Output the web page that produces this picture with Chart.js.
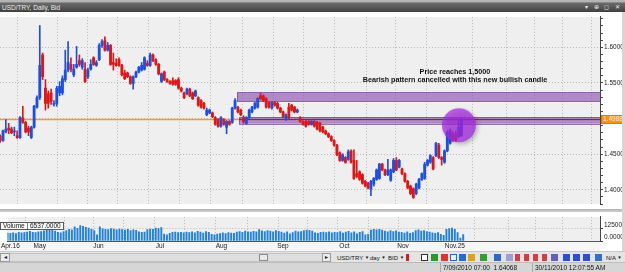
<!DOCTYPE html>
<html><head><meta charset="utf-8">
<script src="https://cdn.jsdelivr.net/npm/chart.js@4.4.0/dist/chart.umd.min.js"></script>
<style>
html,body{margin:0;padding:0;width:625px;height:272px;overflow:hidden;background:#e6e6e6;font-family:"Liberation Sans",Arial,sans-serif;}
div,span{box-sizing:border-box;}
#tabs{position:absolute;left:0;top:0;width:625px;height:3px;background:#b4b4b4;border-bottom:1px solid #8a8a8a;}
#hdr{position:absolute;left:0;top:3px;width:625px;height:9px;background:linear-gradient(#6b6b6b,#404040);color:#ececec;font-size:6.5px;line-height:9px;}
#hdr .t{position:absolute;left:2px;top:0;}
#hdr .b{position:absolute;right:3px;top:0;letter-spacing:2px;font-size:6px;}
#pc{position:absolute;left:0;top:12px;}
#sep{position:absolute;left:0;top:209px;width:625px;height:3px;background:#c6c6c6;border-top:1px solid #b0b0b0;}
#vc{position:absolute;left:0;top:212px;}
#rs{position:absolute;left:622px;top:12px;width:3px;height:240px;background:#d6d6d6;}
#vlab{position:absolute;left:0;top:222px;height:8px;padding:0 2px;border:1px solid #5a5a5a;background:rgba(250,250,250,0.9);font-size:6.5px;line-height:6px;color:#111;white-space:nowrap;}
#bar{position:absolute;left:0;top:251px;width:625px;height:11px;background:#e4e4e4;border-top:1px solid #c8c8c8;}
.btn{position:absolute;top:1px;height:9px;background:#ececec;border:1px solid #9a9a9a;font-size:6px;line-height:7px;text-align:center;color:#111;}
#track{position:absolute;left:10px;top:1px;width:312px;height:9px;background:#dedede;border-top:1px solid #c4c4c4;border-bottom:1px solid #c4c4c4;}
#thumb{position:absolute;top:0;width:9px;height:7px;background:#e9e9e9;border:1px solid #8c8c8c;}
.tb{position:absolute;top:1px;font-size:6px;line-height:9px;color:#111;white-space:nowrap;}
.tb i{font-style:normal;font-size:4.5px;vertical-align:1px;}
.ic{position:absolute;top:2px;width:7px;height:7px;}
#status{position:absolute;left:0;top:262px;width:625px;height:10px;background:#d6d6d6;border-top:1px solid #bdbdbd;}
.st{position:absolute;top:0;height:10px;font-size:6.5px;line-height:10px;color:#111;white-space:nowrap;border-left:1px solid #a8a8a8;padding-left:2px;}
</style></head>
<body>
<div id="tabs"></div>
<div id="hdr"><span class="t">USD/TRY, Daily, Bid</span><span class="b">▾ ⊕ ◻ ✕</span></div>
<canvas id="pc" width="625" height="197"></canvas>
<div id="sep"></div>
<canvas id="vc" width="625" height="40"></canvas>
<div id="rs"></div>
<div id="vlab"></div>
<div id="bar">
  <div class="btn" style="left:0;width:10px;">◂</div>
  <div id="track"><div id="thumb" style="left:249px;"></div></div>
  <div class="btn" style="left:322px;width:9px;">▸</div>
  <span class="tb" style="left:337px;">USD/TRY <i>▼</i></span>
  <span class="tb" style="left:370px;">day <i>▼</i></span>
  <span class="tb" style="left:388px;">BID <i>▼</i></span>
  <span class="ic" style="left:406px;background:#d02020;width:3px;"></span>
  <span class="ic" style="left:421px;border:1px solid #333;background:#fff;"></span>
  <span class="ic" style="left:431px;background:#2a9a2a;"></span>
  <span class="ic" style="left:441px;background:#e03030;"></span>
  <span class="ic" style="left:450px;border:1px solid #2a6ad0;background:#e8f0ff;"></span>
  <span class="ic" style="left:459px;background:#2a6ad0;"></span>
  <span class="ic" style="left:468px;background:#e0a020;"></span>
  <span class="ic" style="left:480px;background:#30a030;"></span>
  <span class="ic" style="left:494px;background:#2a6ad0;"></span>
  <span class="ic" style="left:506px;background:#a0a0d0;"></span>
  <span class="ic" style="left:515px;background:#d04040;width:5px;"></span>
  <span class="ic" style="left:524px;background:#d04040;width:5px;"></span>
  <span class="ic" style="left:533px;background:#d04040;width:5px;"></span>
  <span class="ic" style="left:542px;background:#d04040;width:5px;"></span>
  <span class="ic" style="left:551px;background:#6060c0;"></span>
  <span class="ic" style="left:563px;background:#2a50d0;"></span>
  <span class="ic" style="left:573px;background:#2a50d0;"></span>
  <span class="ic" style="left:583px;background:#2a50d0;"></span>
  <span class="ic" style="left:595px;background:#3070d0;"></span>
  <span class="tb" style="left:606px;">N/A <i>▼</i></span>
</div>
<div id="status">
  <span class="st" style="left:440px;width:92px;">7/09/2010 07:00&nbsp; 1.64068</span>
  <span class="st" style="left:532px;width:93px;">30/11/2010 12:07:55 AM</span>
</div>
<script>
// ---- data (daily candles, trading-day index; index 0 = Apr 16 2010) ----
const firstIndex = -1;
const openP = [1.4747,1.4693,1.4813,1.4867,1.4853,1.4813,1.4760,1.4733,1.5013,1.4947,1.4867,1.4733,1.4880,1.5160,1.5293,1.5893,1.5427,1.5347,1.5360,1.5200,1.5213,1.5360,1.5360,1.5547,1.5680,1.5760,1.5613,1.5720,1.5813,1.5720,1.5693,1.5587,1.5693,1.5853,1.5747,1.5827,1.6027,1.6093,1.5960,1.6027,1.5787,1.5773,1.5827,1.5747,1.5640,1.5640,1.5587,1.5493,1.5587,1.5653,1.5680,1.5693,1.5773,1.5747,1.5893,1.5827,1.5760,1.5520,1.5653,1.5547,1.5520,1.5533,1.5533,1.5547,1.5427,1.5360,1.5347,1.5413,1.5360,1.5320,1.5293,1.5253,1.5213,1.5053,1.5080,1.5080,1.5013,1.4987,1.4893,1.4987,1.4880,1.4960,1.4947,1.5147,1.5160,1.5120,1.5013,1.4933,1.5013,1.5093,1.5147,1.5160,1.5320,1.5320,1.5280,1.5227,1.5147,1.5227,1.5213,1.5147,1.5093,1.4987,1.5160,1.5187,1.5160,1.5093,1.5013,1.4960,1.4960,1.4960,1.4920,1.4960,1.4947,1.4933,1.4880,1.4827,1.4787,1.4747,1.4693,1.4627,1.4520,1.4413,1.4453,1.4427,1.4547,1.4413,1.4227,1.4253,1.4213,1.4120,1.4093,1.4013,1.4080,1.4147,1.4160,1.4360,1.4280,1.4213,1.4133,1.4253,1.4413,1.4320,1.4293,1.4227,1.4120,1.4053,1.4013,1.3947,1.4027,1.4147,1.4160,1.4347,1.4387,1.4453,1.4480,1.4627,1.4453,1.4387,1.4547,1.4653,1.4787,1.4773,1.4747,1.4760];
const highP = [1.4773,1.4840,1.4987,1.4933,1.4880,1.4880,1.4827,1.5027,1.5173,1.4960,1.4893,1.4893,1.5187,1.5320,1.6307,1.5920,1.5547,1.5387,1.5413,1.5253,1.5453,1.5520,1.5600,1.5960,1.6080,1.5853,1.5760,1.6013,1.5893,1.5840,1.5787,1.5707,1.5827,1.5867,1.5813,1.6053,1.6107,1.6147,1.6067,1.6040,1.5920,1.5840,1.5853,1.5760,1.5680,1.5653,1.5600,1.5600,1.5667,1.5733,1.5787,1.5867,1.5813,1.5920,1.5907,1.5840,1.5773,1.5640,1.5667,1.5560,1.5533,1.5573,1.5547,1.5573,1.5440,1.5373,1.5427,1.5427,1.5373,1.5400,1.5307,1.5267,1.5227,1.5147,1.5133,1.5093,1.5027,1.5000,1.5027,1.5000,1.4973,1.4973,1.5160,1.5280,1.5173,1.5133,1.5040,1.5027,1.5133,1.5173,1.5227,1.5293,1.5360,1.5333,1.5293,1.5240,1.5240,1.5240,1.5227,1.5160,1.5107,1.5067,1.5213,1.5200,1.5173,1.5133,1.5027,1.4973,1.4973,1.4973,1.4973,1.4973,1.4960,1.4947,1.4893,1.4840,1.4800,1.4760,1.4707,1.4640,1.4533,1.4507,1.4467,1.4560,1.4560,1.4560,1.4413,1.4267,1.4227,1.4133,1.4107,1.4133,1.4173,1.4293,1.4373,1.4373,1.4293,1.4427,1.4293,1.4440,1.4453,1.4427,1.4307,1.4240,1.4133,1.4067,1.4027,1.4093,1.4160,1.4240,1.4387,1.4427,1.4493,1.4467,1.4667,1.4653,1.4467,1.4560,1.4827,1.4853,1.4813,1.4827,1.4987,1.5013];
const lowP = [1.4667,1.4680,1.4800,1.4787,1.4787,1.4760,1.4720,1.4720,1.4933,1.4800,1.4760,1.4720,1.4867,1.5147,1.5267,1.5547,1.5120,1.5147,1.5200,1.5173,1.5173,1.5320,1.5333,1.5520,1.5653,1.5653,1.5587,1.5707,1.5733,1.5693,1.5507,1.5560,1.5680,1.5747,1.5733,1.5813,1.6000,1.5947,1.5947,1.5747,1.5680,1.5733,1.5733,1.5600,1.5547,1.5573,1.5480,1.5413,1.5573,1.5640,1.5667,1.5680,1.5733,1.5733,1.5800,1.5747,1.5613,1.5507,1.5533,1.5507,1.5480,1.5467,1.5467,1.5413,1.5373,1.5280,1.5333,1.5307,1.5267,1.5307,1.5173,1.5147,1.5133,1.5040,1.5067,1.5013,1.4907,1.4880,1.4880,1.4907,1.4787,1.4907,1.4933,1.5133,1.5080,1.5040,1.4933,1.4920,1.5000,1.5080,1.5133,1.5147,1.5267,1.5240,1.5147,1.5147,1.5133,1.5173,1.5133,1.5080,1.5013,1.4973,1.5000,1.5107,1.5080,1.5080,1.4947,1.4907,1.4880,1.4907,1.4907,1.4880,1.4840,1.4813,1.4800,1.4773,1.4733,1.4680,1.4613,1.4480,1.4400,1.4400,1.4373,1.4413,1.4373,1.4147,1.4173,1.4133,1.4080,1.4040,1.4013,1.3920,1.4053,1.4133,1.4147,1.4267,1.4200,1.4200,1.4120,1.4240,1.4267,1.4307,1.4213,1.4107,1.4013,1.3933,1.3880,1.3933,1.4013,1.4133,1.4147,1.4333,1.4373,1.4280,1.4467,1.4440,1.4347,1.4373,1.4533,1.4640,1.4680,1.4680,1.4733,1.4747];
const closeP = [1.4693,1.4827,1.4853,1.4840,1.4800,1.4820,1.4733,1.5013,1.4947,1.4813,1.4813,1.4880,1.5173,1.5293,1.5747,1.5587,1.5213,1.5213,1.5240,1.5213,1.5427,1.5453,1.5560,1.5680,1.5787,1.5693,1.5693,1.5760,1.5760,1.5813,1.5520,1.5680,1.5760,1.5760,1.5787,1.6027,1.6080,1.5960,1.6027,1.5760,1.5760,1.5747,1.5747,1.5613,1.5560,1.5587,1.5493,1.5587,1.5653,1.5720,1.5747,1.5853,1.5747,1.5893,1.5813,1.5760,1.5627,1.5627,1.5547,1.5520,1.5493,1.5480,1.5480,1.5427,1.5387,1.5293,1.5413,1.5320,1.5280,1.5387,1.5187,1.5160,1.5147,1.5120,1.5120,1.5027,1.4920,1.4893,1.5013,1.4920,1.4960,1.4920,1.5147,1.5253,1.5093,1.5053,1.4960,1.5013,1.5120,1.5160,1.5213,1.5280,1.5280,1.5253,1.5160,1.5160,1.5227,1.5187,1.5147,1.5093,1.5027,1.5053,1.5013,1.5120,1.5093,1.5120,1.4960,1.4920,1.4893,1.4920,1.4960,1.4893,1.4853,1.4827,1.4813,1.4787,1.4747,1.4693,1.4627,1.4493,1.4413,1.4493,1.4387,1.4533,1.4387,1.4160,1.4187,1.4147,1.4093,1.4053,1.4027,1.4120,1.4160,1.4280,1.4360,1.4280,1.4213,1.4280,1.4280,1.4413,1.4280,1.4413,1.4227,1.4120,1.4027,1.3947,1.3893,1.4080,1.4147,1.4227,1.4360,1.4413,1.4480,1.4293,1.4653,1.4453,1.4427,1.4547,1.4813,1.4827,1.4693,1.4693,1.4880,1.4988];
const volume = [8200,7900,8600,7800,9100,8400,8800,9300,10100,9000,8700,9500,
 9800,10600,17200,12500, 11800,10200,9100,8500,9900,10800, 12000,11500,14600,13200,16000,15200,14100,
 13500,12200,10800, 6500, 14600, 12600,12100,11800,12900,12300,11600,12400, 11900,11200,12000,10900,11500,11000,
 9500,9000,9300, 11800,12300,12000,13400,12900,13800, 7200,6500,8000, 9000,9300,8700,9000,8500,9200,8800,
 9500,8600,10000,9200,8300,9700,8900, 6800,6300,7200, 7600,8400,7800,8800,8100,7900,
 9200,9800,9000,10300,9500,9200,10000, 9600,11800, 10500,9800,10900,10200,9600,10700,10000,
 9200,8200,9500,7500,8800, 10300,9600,9900,10800,11400,11000,10200, 8600,7900,9000,
 9300,8800,9600,8400,9000,8700, 9800,8200,9300,10100,8600,9500,7500,9000,9800, 6500,6800,
 11200,12100,11500,12000,11200, 10300,9600,10800,9800,10500,9300, 9000,8200,9500,8000,8700,
 10800,11500,10200,10900,9800, 9200,8500,7900,8800,6900,5800, 12100,12900,13500,12000,8800,3000,6537];
// axis ticks (trading-day index positions)
const monthTickIdx = [0, 10.5, 31.5, 53.5, 75.5, 97.5, 119.5, 140.5, 159];
const monthTickLabel = ["Apr.16","May","Jun","Jul","Aug","Sep","Oct","Nov","Nov.25"];
const extraGridIdx = [28.3, 49.5, 71, 94, 114.8, 137.1, 173.1, 183, 192.6, 202.8];
const xMin = -1.06, xMax = 210.95;
const priceMin = 1.38, priceMax = 1.64267;
const lastPrice = 1.4988;
const volMax = 25000, volTicks = [0, 12500];
// drawings on the chart
const zoneStartIdx = [82.7, 83.4];
const zoneLow = [1.5240, 1.4927];
const zoneHigh = [1.5367, 1.5020];
const zoneLineStartIdx = 83.4;
const circleIdx = 161.1, circlePrice = 1.4907;
const noteIdx = 159.7;
const notePrice = [1.5657, 1.5543];
const noteText = ["Price reaches 1,5000", "Bearish pattern cancelled with this new bullish candle"];

const idx = openP.map((_, k) => firstIndex + k);
const up = openP.map((o, k) => closeP[k] >= o);
const BLUE = '#1c4fe6', RED = '#e01616';
const candleCol = up.map(u => u ? BLUE : RED);
const allGrid = monthTickIdx.concat(extraGridIdx).sort((a,b)=>a-b);
const GRID = '#b9b9b9';
const FONT = {family: '"Liberation Sans", Arial, sans-serif', size: 6.5};

document.getElementById('vlab').textContent = 'Volume | ' + volume[volume.length-1].toFixed(4);

const priceDecor = {
  id: 'priceDecor',
  beforeDraw(c) {
    const {ctx, chartArea: a} = c;
    ctx.save();
    ctx.fillStyle = '#ffffff'; ctx.fillRect(0, 0, c.width, c.height);
    ctx.fillStyle = '#efefef'; ctx.fillRect(a.left, a.top, a.right - a.left, a.bottom - a.top);
    ctx.restore();
  },
  beforeDatasetsDraw(c) {
    const {ctx, chartArea: a} = c;
    const xs = c.scales.x, ys = c.scales.y;
    ctx.save();
    ctx.beginPath(); ctx.rect(a.left, a.top, a.right - a.left, a.bottom - a.top); ctx.clip();
    const yl = Math.round(ys.getPixelForValue(lastPrice)) + 0.5;
    ctx.strokeStyle = '#f59b2a'; ctx.lineWidth = 1.3;
    ctx.beginPath(); ctx.moveTo(a.left, yl); ctx.lineTo(a.right, yl); ctx.stroke();
    for (let k = 0; k < zoneStartIdx.length; k++) {
      const x0 = xs.getPixelForValue(zoneStartIdx[k]);
      const y0 = ys.getPixelForValue(zoneHigh[k]), y1 = ys.getPixelForValue(zoneLow[k]);
      ctx.fillStyle = 'rgba(136,78,170,0.62)';
      ctx.fillRect(x0, y0, a.right - x0, y1 - y0);
      ctx.strokeStyle = 'rgba(120,60,150,0.7)'; ctx.lineWidth = 1;
      ctx.strokeRect(x0 + 0.5, Math.round(y0) + 0.5, a.right - x0, Math.round(y1 - y0));
    }
    const xl = xs.getPixelForValue(zoneLineStartIdx);
    ctx.strokeStyle = '#a81c2c'; ctx.lineWidth = 1;
    ctx.beginPath(); ctx.moveTo(xl, yl); ctx.lineTo(a.right, yl); ctx.stroke();
    ctx.restore();
  },
  afterDatasetsDraw(c) {
    const {ctx} = c;
    const xs = c.scales.x, ys = c.scales.y;
    ctx.save();
    const cx = xs.getPixelForValue(circleIdx), cy = ys.getPixelForValue(circlePrice);
    ctx.shadowColor = 'rgba(0,0,0,0.35)'; ctx.shadowBlur = 4; ctx.shadowOffsetX = 2; ctx.shadowOffsetY = 2;
    ctx.fillStyle = 'rgba(170,40,230,0.72)';
    ctx.beginPath(); ctx.arc(cx, cy, 17, 0, Math.PI * 2); ctx.fill();
    ctx.shadowColor = 'transparent';
    ctx.fillStyle = '#111';
    ctx.font = 'bold 7.2px "Liberation Sans", Arial, sans-serif';
    ctx.textAlign = 'center'; ctx.textBaseline = 'middle';
    const nx = xs.getPixelForValue(noteIdx);
    noteText.forEach((t, k) => ctx.fillText(t, nx, ys.getPixelForValue(notePrice[k])));
    ctx.restore();
  },
  afterDraw(c) {
    const {ctx, chartArea: a} = c;
    const y = Math.round(c.scales.y.getPixelForValue(lastPrice));
    ctx.save();
    ctx.fillStyle = '#f7941d'; ctx.fillRect(a.right + 1, y - 4, 30, 9);
    ctx.strokeStyle = '#e07a00'; ctx.strokeRect(a.right + 1.5, y - 3.5, 30, 8);
    ctx.fillStyle = '#fff3e0'; ctx.font = '6.5px "Liberation Sans", Arial, sans-serif';
    ctx.textBaseline = 'middle'; ctx.textAlign = 'left';
    ctx.fillText(lastPrice.toFixed(4) + '(0)', a.right + 3, y + 0.5);
    ctx.restore();
  }
};

const xGridCfg = {color: GRID, drawTicks: false, lineWidth: 1};

new Chart(document.getElementById('pc'), {
  type: 'bar',
  data: {
    datasets: [
      {data: idx.map((i, k) => ({x: i, y: [lowP[k], highP[k]]})), backgroundColor: candleCol, barThickness: 1, grouped: false, borderWidth: 0},
      {data: idx.map((i, k) => ({x: i, y: [openP[k], closeP[k]]})), backgroundColor: candleCol, barThickness: 2.2, minBarLength: 1, grouped: false, borderWidth: 0}
    ]
  },
  options: {
    responsive: false, animation: false, devicePixelRatio: 1, events: [],
    layout: {padding: 0},
    plugins: {legend: {display: false}, tooltip: {enabled: false}},
    scales: {
      x: {
        type: 'linear', min: xMin, max: xMax, offset: false,
        afterBuildTicks: s => { s.ticks = allGrid.map(v => ({value: v})); },
        afterFit: s => { s.height = 0; },
        ticks: {display: false},
        grid: xGridCfg,
        border: {display: false, dash: [1, 2]}
      },
      y: {
        position: 'right', min: priceMin, max: priceMax,
        afterFit: s => { s.width = 25; },
        ticks: {
          stepSize: 0.01, includeBounds: false, autoSkip: false, padding: 1,
          color: '#222', font: FONT,
          callback: v => (Math.round(v * 100) % 5 === 0) ? v.toFixed(4) + '(0)' : ''
        },
        grid: {
          color: ctx => (ctx.tick && Math.round(ctx.tick.value * 100) % 5 === 0) ? GRID : 'rgba(0,0,0,0)',
          tickColor: '#444', tickLength: 3, drawTicks: true
        },
        border: {display: true, color: '#444', dash: [1, 2]}
      }
    }
  },
  plugins: [priceDecor]
});

const volDecor = {
  id: 'volDecor',
  beforeDraw(c) {
    const {ctx, chartArea: a} = c;
    ctx.save();
    ctx.fillStyle = '#ffffff'; ctx.fillRect(0, 0, c.width, c.height);
    ctx.fillStyle = '#f6f6f6'; ctx.fillRect(0, a.bottom, a.right, c.height - a.bottom);
    ctx.fillStyle = '#efefef'; ctx.fillRect(a.left, a.top, a.right - a.left, a.bottom - a.top);
    ctx.restore();
  }
};

new Chart(document.getElementById('vc'), {
  type: 'bar',
  data: {
    datasets: [{data: idx.map((i, k) => ({x: i, y: volume[k]})), backgroundColor: '#2382d6', barThickness: 1.3, borderWidth: 0}]
  },
  options: {
    responsive: false, animation: false, devicePixelRatio: 1, events: [],
    layout: {padding: 0},
    plugins: {legend: {display: false}, tooltip: {enabled: false}},
    scales: {
      x: {
        type: 'linear', min: xMin, max: xMax, offset: false,
        afterBuildTicks: s => { s.ticks = allGrid.map(v => ({value: v})); },
        afterFit: s => { s.height = 11; },
        ticks: {
          autoSkip: false, maxRotation: 0, padding: 1, color: '#222', font: FONT,
          callback: v => { const j = monthTickIdx.indexOf(v); return j >= 0 ? monthTickLabel[j] : ''; }
        },
        grid: xGridCfg,
        border: {display: true, color: '#555', dash: [1, 2]}
      },
      y: {
        position: 'right', min: 0, max: volMax,
        afterFit: s => { s.width = 25; },
        afterBuildTicks: s => { s.ticks = volTicks.map(v => ({value: v})); },
        ticks: {
          autoSkip: false, padding: 1, color: '#222', font: FONT, labelOffset: -3.5,
          callback: v => v.toFixed(4)
        },
        grid: {color: ctx => (ctx.tick && ctx.tick.value > 0) ? GRID : 'rgba(0,0,0,0)', tickColor: '#444', tickLength: 3},
        border: {display: true, color: '#444', dash: [1, 2]}
      }
    }
  },
  plugins: [volDecor]
});
</script>
</body></html>
